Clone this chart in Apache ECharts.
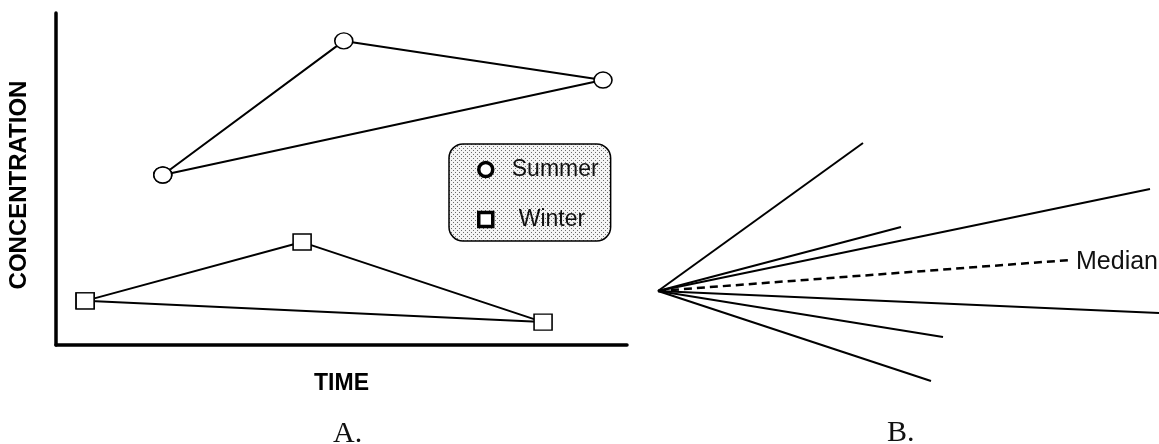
<!DOCTYPE html>
<html>
<head>
<meta charset="utf-8">
<script src="https://cdn.jsdelivr.net/npm/echarts@6/dist/echarts.min.js"></script>
<style>
  html, body { margin: 0; padding: 0; background: #fff; }
  #main { width: 1159px; height: 444px; }
</style>
</head>
<body>
<div id="main"></div>
<script>
// panel A: time (0-10) vs concentration (0-10)
var summerPts = [[1.87, 5.12], [5.04, 9.16], [9.58, 7.98]];
var winterPts = [[0.51, 1.33], [4.31, 3.10], [8.53, 0.69]];
var seasons = ['Summer', 'Winter'];

// panel B: ends of the rays, origin at [0, 0]
var rayEnds = [[205, 148], [243, 64], [492, 102], [501, -22], [285, -46], [273, -90]];
var medianEnd = [412, 31];

var FONT = '"Liberation Sans", Arial, Helvetica, sans-serif';
var SERIF = '"Liberation Serif", "DejaVu Serif", serif';

// stipple for legend box
var pc = document.createElement('canvas');
pc.width = 4; pc.height = 4;
var pctx = pc.getContext('2d');
pctx.fillStyle = '#f4f4f4';
pctx.fillRect(0, 0, 4, 4);
pctx.fillStyle = '#6a6a6a';
pctx.fillRect(0, 0, 1, 1);
pctx.fillRect(2, 2, 1, 1);

function closed(pts) { return pts.concat([pts[0]]); }

var myChart = echarts.init(document.getElementById('main'));

var series = [{
    name: seasons[0],
    type: 'line',
    data: closed(summerPts),
    symbol: 'circle',
    symbolSize: [18, 16],
    itemStyle: { color: '#fff', borderColor: '#000', borderWidth: 1.5 },
    lineStyle: { color: '#000', width: 2 },
    z: 3
}, {
    name: seasons[1],
    type: 'line',
    data: closed(winterPts),
    symbol: 'rect',
    symbolSize: [18, 16],
    itemStyle: { color: '#fff', borderColor: '#000', borderWidth: 1.5 },
    lineStyle: { color: '#000', width: 2 },
    z: 3
}];

rayEnds.forEach(function (e, i) {
    series.push({
        name: 'ray' + i,
        type: 'line',
        xAxisIndex: 1,
        yAxisIndex: 1,
        data: [[0, 0], e],
        symbol: 'none',
        lineStyle: { color: '#000', width: 2 }
    });
});
series.push({
    name: 'Median',
    type: 'line',
    xAxisIndex: 1,
    yAxisIndex: 1,
    data: [[0, 0], medianEnd],
    symbol: 'none',
    endLabel: {
        show: true, distance: 6, formatter: 'Median', offset: [0, 2],
        color: '#111', fontFamily: FONT, fontSize: 25
    },
    lineStyle: { color: '#000', width: 2.5, type: [8, 5] }
});

var option = {
    animation: false,
    backgroundColor: '#fff',
    title: [{
        text: 'A.', left: 333, top: 419, padding: 0,
        textStyle: { fontFamily: SERIF, fontSize: 30, fontWeight: 'normal', color: '#111' }
    }, {
        text: 'B.', left: 887, top: 418, padding: 0,
        textStyle: { fontFamily: SERIF, fontSize: 30, fontWeight: 'normal', color: '#111' }
    }],
    legend: {
        data: [{ name: seasons[0], icon: 'circle' }, { name: seasons[1], icon: 'rect' }],
        orient: 'vertical',
        left: 449,
        top: 144,
        padding: [14, 12, 10, 28],
        itemGap: 27,
        itemWidth: 14,
        itemHeight: 14,
        itemStyle: { color: '#fff', borderColor: '#000', borderWidth: 3.5 },
        formatter: function (n) { return n === seasons[0] ? '{a|' + n + '}' : '{b|' + n + '}'; },
        textStyle: {
            fontFamily: FONT, fontSize: 23, color: '#111',
            rich: {
                a: { fontFamily: FONT, fontSize: 23, color: '#111', padding: [0, 0, 0, 14] },
                b: { fontFamily: FONT, fontSize: 23, color: '#111', padding: [0, 0, 0, 21] }
            }
        },
        backgroundColor: { image: pc, repeat: 'repeat' },
        borderColor: '#000',
        borderWidth: 1.5,
        borderRadius: 14,
        selectedMode: false
    },
    grid: [
        { left: 56, top: 13, width: 571, height: 332 },
        { left: 658, top: 141, width: 501, height: 250 }
    ],
    xAxis: [{
        type: 'value', min: 0, max: 10, gridIndex: 0,
        name: 'TIME', nameLocation: 'middle', nameGap: 27,
        nameTextStyle: { fontFamily: FONT, fontSize: 23, fontWeight: 'bold', color: '#000' },
        axisLine: { show: true, onZero: false, lineStyle: { color: '#000', width: 3.5 } },
        axisTick: { show: false }, axisLabel: { show: false }, splitLine: { show: false }
    }, {
        type: 'value', min: 0, max: 501, gridIndex: 1, show: false
    }],
    yAxis: [{
        type: 'value', min: 0, max: 10, gridIndex: 0,
        name: 'CONCENTRATION', nameLocation: 'middle', nameGap: 25, nameRotate: 90,
        nameTextStyle: { fontFamily: FONT, fontSize: 24, fontWeight: 'bold', color: '#000', padding: [0, 12, 0, 0] },
        axisLine: { show: true, onZero: false, lineStyle: { color: '#000', width: 3.5 } },
        axisTick: { show: false }, axisLabel: { show: false }, splitLine: { show: false }
    }, {
        type: 'value', min: -100, max: 150, gridIndex: 1, show: false
    }],
    series: series
};
myChart.setOption(option);
</script>
</body>
</html>
